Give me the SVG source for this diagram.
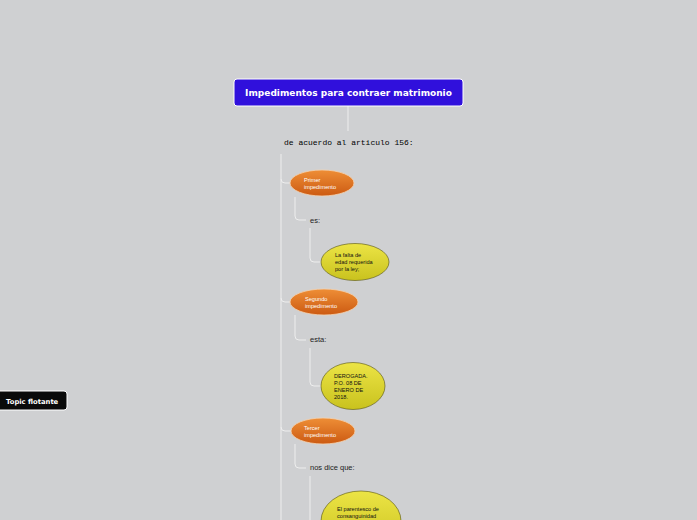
<svg xmlns="http://www.w3.org/2000/svg" width="697" height="520" viewBox="0 0 697 520">
<defs>
<linearGradient id="og" x1="0" y1="0" x2="0" y2="1">
<stop offset="0" stop-color="#ee8e36"/>
<stop offset="1" stop-color="#cc5a12"/>
</linearGradient>
<linearGradient id="yg" x1="0" y1="0" x2="0" y2="1">
<stop offset="0" stop-color="#ece445"/>
<stop offset="1" stop-color="#c9c21e"/>
</linearGradient>
<style>
.conn{fill:none;stroke:#eeeeee;stroke-width:1}
.or{fill:url(#og);stroke:#f4d2b0;stroke-width:0.8}
.ye{fill:url(#yg);stroke:#55520a;stroke-width:0.6}
.ot{font-family:"Liberation Sans",Arial,sans-serif;font-size:5.6px;fill:#ffffff}
.yt{font-family:"Liberation Sans",Arial,sans-serif;font-size:5.6px;fill:#111111}
.lb{font-family:"Liberation Sans",Arial,sans-serif;font-size:7.5px;fill:#222222}
</style>
</defs>
<rect width="697" height="520" fill="#cfd0d2"/>
<g id="connectors">
<line class="conn" x1="348" y1="106" x2="348" y2="131"/>
<line class="conn" x1="281" y1="154" x2="281" y2="520"/>
<path class="conn" d="M281 179 Q281 183 285 183 L290 183"/>
<path class="conn" d="M295 197 L295 216 Q295 220 299 220 L306 220"/>
<path class="conn" d="M310 228 L310 258 Q310 262 314 262 L321 262"/>
<path class="conn" d="M281 298 Q281 302 285 302 L290 302"/>
<path class="conn" d="M295 315 L295 336 Q295 340 299 340 L306 340"/>
<path class="conn" d="M310 348 L310 382 Q310 386 314 386 L321 386"/>
<path class="conn" d="M281 427 Q281 431 285 431 L291 431"/>
<path class="conn" d="M295 444 L295 464 Q295 468 299 468 L306 468"/>
<path class="conn" d="M310 476 L310 520"/>
</g>
<g id="title">
<rect x="234" y="79" width="229" height="27" rx="3" fill="#3010dc" stroke="#ffffff" stroke-width="1"/>
<text x="348.5" y="96" text-anchor="middle" font-family="DejaVu Sans,Verdana,sans-serif" font-weight="bold" font-size="9px" fill="#ffffff">Impedimentos para contraer matrimonio</text>
</g>
<g id="label-articulo">
<text x="284" y="145" font-family="Liberation Mono,Courier New,monospace" font-size="8px" fill="#000000">de acuerdo al articulo 156:</text>
</g>
<g id="primer">
<ellipse class="or" cx="322" cy="183" rx="32" ry="13"/>
<text class="ot" x="304" y="182">Primer</text>
<text class="ot" x="304" y="189">impedimento</text>
</g>
<g id="label-es">
<text class="lb" x="310" y="223">es:</text>
</g>
<g id="falta">
<ellipse class="ye" cx="355" cy="262" rx="34" ry="18.5"/>
<text class="yt" x="335" y="257">La falta de</text>
<text class="yt" x="335" y="264">edad requerida</text>
<text class="yt" x="335" y="271">por la ley;</text>
</g>
<g id="segundo">
<ellipse class="or" cx="324" cy="302" rx="34" ry="13"/>
<text class="ot" x="305" y="301">Segundo</text>
<text class="ot" x="305" y="308">impedimento</text>
</g>
<g id="label-esta">
<text class="lb" x="310" y="342">esta:</text>
</g>
<g id="derogada">
<ellipse class="ye" cx="353" cy="386" rx="32" ry="23.5"/>
<text class="yt" x="334" y="378">DEROGADA.</text>
<text class="yt" x="334" y="385">P.O. 08 DE</text>
<text class="yt" x="334" y="392">ENERO DE</text>
<text class="yt" x="334" y="399">2018.</text>
</g>
<g id="tercer">
<ellipse class="or" cx="323" cy="431" rx="32" ry="13"/>
<text class="ot" x="304" y="430">Tercer</text>
<text class="ot" x="304" y="437">impedimento</text>
</g>
<g id="label-nos">
<text class="lb" x="310" y="470">nos dice que:</text>
</g>
<g id="parentesco">
<ellipse class="ye" cx="361" cy="521" rx="40" ry="30"/>
<text class="yt" x="337" y="511">El parentesco de</text>
<text class="yt" x="337" y="518">consanguinidad</text>
</g>
<g id="topic-flotante">
<rect x="-3" y="391" width="70" height="19" rx="3" fill="#0a0a0a" stroke="#ffffff" stroke-width="1"/>
<text x="6" y="403.5" font-family="DejaVu Sans,Verdana,sans-serif" font-weight="bold" font-size="6.8px" fill="#ffffff">Topic flotante</text>
</g>
</svg>
